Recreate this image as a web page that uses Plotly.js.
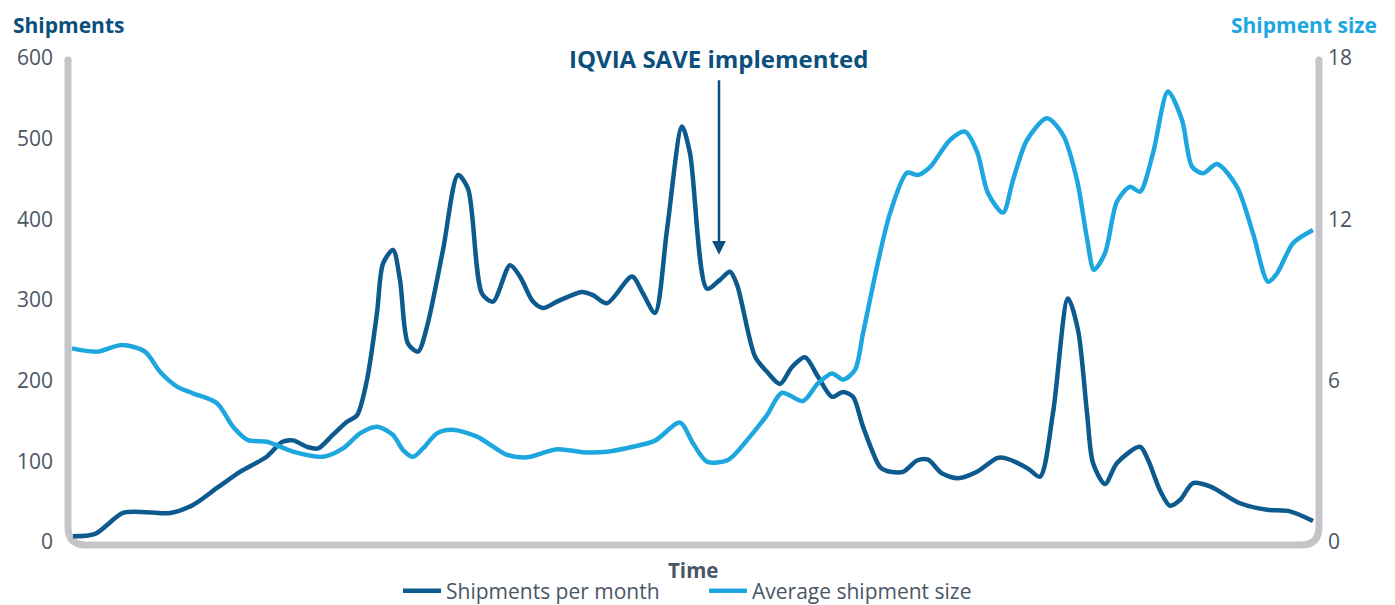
<!DOCTYPE html>
<html>
<head>
<meta charset="utf-8">
<script src="https://cdn.plot.ly/plotly-3.0.1.min.js"></script>
<style>
  html, body { margin: 0; padding: 0; background: #ffffff; }
  #chart { width: 1395px; height: 605px; }
</style>
</head>
<body>
<div id="chart"></div>
<script>
// ---- Data (time index in months) ----
const shipTime = [0.3, 2.5, 5.3, 7.7, 10.0, 12.3, 14.7, 17.0, 19.7, 21.2, 22.3, 23.7, 24.8, 26.3, 27.7, 28.7, 29.7, 30.7, 31.3, 32.3, 33.0, 33.8, 34.8, 35.7, 37.3, 38.8, 39.8, 41.2, 42.3, 44.0, 45.0, 46.3, 47.3, 48.7, 51.2, 52.3, 53.7, 56.2, 57.3, 58.5, 59.7, 61.2, 62.0, 63.7, 65.0, 66.0, 66.7, 68.5, 69.7, 71.0, 72.2, 73.5, 74.8, 76.2, 77.3, 78.3, 79.3, 81.0, 81.7, 83.3, 84.7, 85.8, 87.2, 88.8, 90.7, 92.7, 93.5, 95.8, 97.0, 98.3, 99.8, 100.8, 101.7, 102.3, 103.5, 104.7, 107.0, 107.8, 109.0, 110.0, 111.0, 112.3, 114.0, 117.0, 119.7, 122.0, 124.3];
const shipmentsPerMonth = [7, 10, 36, 37, 36, 46, 67, 87, 106, 124, 126, 118, 116, 133, 149, 157, 201, 284, 345, 362, 325, 246, 236, 267, 362, 455, 438, 308, 298, 343, 329, 298, 290, 298, 310, 306, 296, 329, 308, 284, 387, 515, 482, 314, 325, 335, 319, 230, 211, 196, 217, 229, 205, 180, 186, 180, 143, 93, 88, 87, 101, 102, 85, 79, 87, 104, 104, 91, 81, 160, 302, 263, 160, 98, 72, 98, 118, 102, 64, 45, 52, 73, 69, 48, 40, 38, 26];

const sizeTime = [0.2, 2.7, 5.2, 7.5, 9.0, 10.7, 12.3, 14.7, 16.3, 17.8, 19.7, 22.3, 25.3, 27.3, 29.0, 30.7, 32.3, 33.3, 34.3, 35.3, 36.7, 38.2, 40.7, 43.7, 45.7, 48.7, 51.3, 53.7, 56.3, 58.5, 61.0, 62.3, 63.7, 65.8, 68.0, 69.7, 71.2, 73.3, 74.8, 76.2, 77.3, 78.5, 79.3, 80.7, 82.0, 83.7, 84.8, 86.0, 88.0, 89.5, 90.7, 91.8, 93.3, 94.3, 95.7, 97.7, 99.3, 100.7, 101.7, 102.4, 103.5, 104.7, 106.0, 107.0, 108.3, 109.8, 111.2, 112.2, 113.3, 114.7, 116.7, 118.3, 119.8, 120.7, 122.3, 124.3];
const averageShipmentSize = [7.20, 7.08, 7.33, 7.08, 6.33, 5.78, 5.53, 5.16, 4.29, 3.79, 3.73, 3.36, 3.17, 3.48, 4.04, 4.29, 3.98, 3.42, 3.17, 3.48, 4.04, 4.17, 3.92, 3.24, 3.15, 3.45, 3.34, 3.36, 3.54, 3.77, 4.44, 3.67, 2.99, 3.05, 3.92, 4.72, 5.55, 5.24, 5.90, 6.27, 6.04, 6.40, 7.76, 10.24, 12.22, 13.73, 13.65, 13.94, 14.95, 15.26, 14.52, 12.97, 12.25, 13.46, 14.95, 15.76, 15.14, 13.46, 11.29, 10.12, 10.74, 12.66, 13.21, 13.03, 14.46, 16.75, 15.69, 13.96, 13.71, 14.06, 13.21, 11.48, 9.68, 9.99, 11.11, 11.60];

const leftTicks = [0, 100, 200, 300, 400, 500, 600];
const leftTickLabels = ["0", "100", "200", "300", "400", "500", "600"];
const rightTicks = [0, 6, 12, 18];
const rightTickLabels = ["0", "6", "12", "18"];

const seriesNames = ["Shipments per month", "Average shipment size"];
const eventLabel = "IQVIA SAVE implemented";
const eventTime = 64.9;
const eventValue = 356;

// ---- Styling ----
const DARK = "#0c5a8e";
const DARK_TEXT = "#0b4f7c";
const LIGHT = "#1ea7df";
const GREY_TEXT = "#4a5666";
const AXIS_GREY = "#c5c4c9";
const FONT = "'Open Sans', 'Noto Sans', sans-serif";

const W = 1395, H = 605;
const L = 70, R = 79, T = 58, B = 63;
const pw = W - L - R, ph = H - T - B;
const px = x => (x - L) / pw;     // pixel -> paper x
const py = y => (H - B - y) / ph; // pixel -> paper y

const traces = [
  {
    x: shipTime, y: shipmentsPerMonth, name: seriesNames[0],
    type: "scatter", mode: "lines", yaxis: "y",
    line: { color: DARK, width: 4.5, shape: "spline", smoothing: 0.8 }
  },
  {
    x: sizeTime, y: averageShipmentSize, name: seriesNames[1],
    type: "scatter", mode: "lines", yaxis: "y2",
    line: { color: LIGHT, width: 4.5, shape: "spline", smoothing: 0.8 }
  }
];

// U-shaped rounded axis frame
const xl = px(68), xr = px(1319), yt = py(60), yb = py(545);
const rx = 18 / pw, ry = 18 / ph;
const framePath = `M ${xl},${yt} L ${xl},${yb + ry} Q ${xl},${yb} ${xl + rx},${yb} L ${xr - rx},${yb} Q ${xr},${yb} ${xr},${yb + ry} L ${xr},${yt}`;

const capR = 3.5;
const shapes = [
  { type: "path", xref: "paper", yref: "paper", path: framePath, layer: "below",
    line: { color: AXIS_GREY, width: 7 } },
  { type: "circle", xref: "paper", yref: "paper", layer: "below",
    x0: px(68 - capR), x1: px(68 + capR), y0: py(60 + capR), y1: py(60 - capR),
    fillcolor: AXIS_GREY, line: { width: 0 } },
  { type: "circle", xref: "paper", yref: "paper", layer: "below",
    x0: px(1319 - capR), x1: px(1319 + capR), y0: py(60 + capR), y1: py(60 - capR),
    fillcolor: AXIS_GREY, line: { width: 0 } }
];

const annotations = [
  { xref: "paper", yref: "paper", x: px(11), y: py(25), xanchor: "left", yanchor: "middle",
    text: "<b>Shipments</b>", showarrow: false, font: { family: FONT, size: 21, color: DARK_TEXT } },
  { xref: "paper", yref: "paper", x: px(1379), y: py(25), xanchor: "right", yanchor: "middle",
    text: "<b>Shipment size</b>", showarrow: false, font: { family: FONT, size: 21, color: LIGHT } },
  { xref: "paper", yref: "paper", x: px(718), y: py(58), xanchor: "center", yanchor: "middle",
    text: "<b>" + eventLabel + "</b>", showarrow: false, font: { family: FONT, size: 24, color: DARK_TEXT } },
  { xref: "x", yref: "y", x: eventTime, y: eventValue, ax: 0, ay: -176, axref: "pixel", ayref: "pixel",
    text: "", showarrow: true, arrowhead: 2, arrowsize: 1.1, arrowwidth: 2.5, arrowcolor: DARK_TEXT },
  { xref: "paper", yref: "paper", x: px(693), y: py(570), xanchor: "center", yanchor: "middle",
    text: "<b>Time</b>", showarrow: false, font: { family: FONT, size: 20.5, color: GREY_TEXT } }
];

const layout = {
  width: W, height: H,
  margin: { l: L, r: R, t: T, b: B, pad: 0, autoexpand: false },
  paper_bgcolor: "#ffffff", plot_bgcolor: "#ffffff",
  font: { family: FONT, color: GREY_TEXT, size: 21 },
  showlegend: true,
  legend: {
    orientation: "h", x: px(398), xanchor: "left", y: py(591), yanchor: "middle",
    font: { family: FONT, size: 21, color: GREY_TEXT }, itemwidth: 38,
    entrywidth: 253, entrywidthmode: "pixels", tracegroupgap: 0
  },
  xaxis: {
    range: [0, pw / 10], showgrid: false, zeroline: false, showline: false,
    showticklabels: false, ticks: "", fixedrange: true
  },
  yaxis: {
    range: [0, 600], tickvals: leftTicks, ticktext: leftTickLabels,
    showgrid: false, zeroline: false, showline: false, ticks: "",
    ticklabelstandoff: 16, tickfont: { family: FONT, size: 21, color: GREY_TEXT }, fixedrange: true
  },
  yaxis2: {
    range: [0, 18], overlaying: "y", side: "right", tickvals: rightTicks, ticktext: rightTickLabels,
    showgrid: false, zeroline: false, showline: false, ticks: "",
    ticklabelstandoff: 11, tickfont: { family: FONT, size: 21, color: GREY_TEXT }, fixedrange: true
  },
  shapes: shapes,
  annotations: annotations,
  hovermode: false
};

Plotly.newPlot("chart", traces, layout, { displayModeBar: false, staticPlot: true });
</script>
</body>
</html>
